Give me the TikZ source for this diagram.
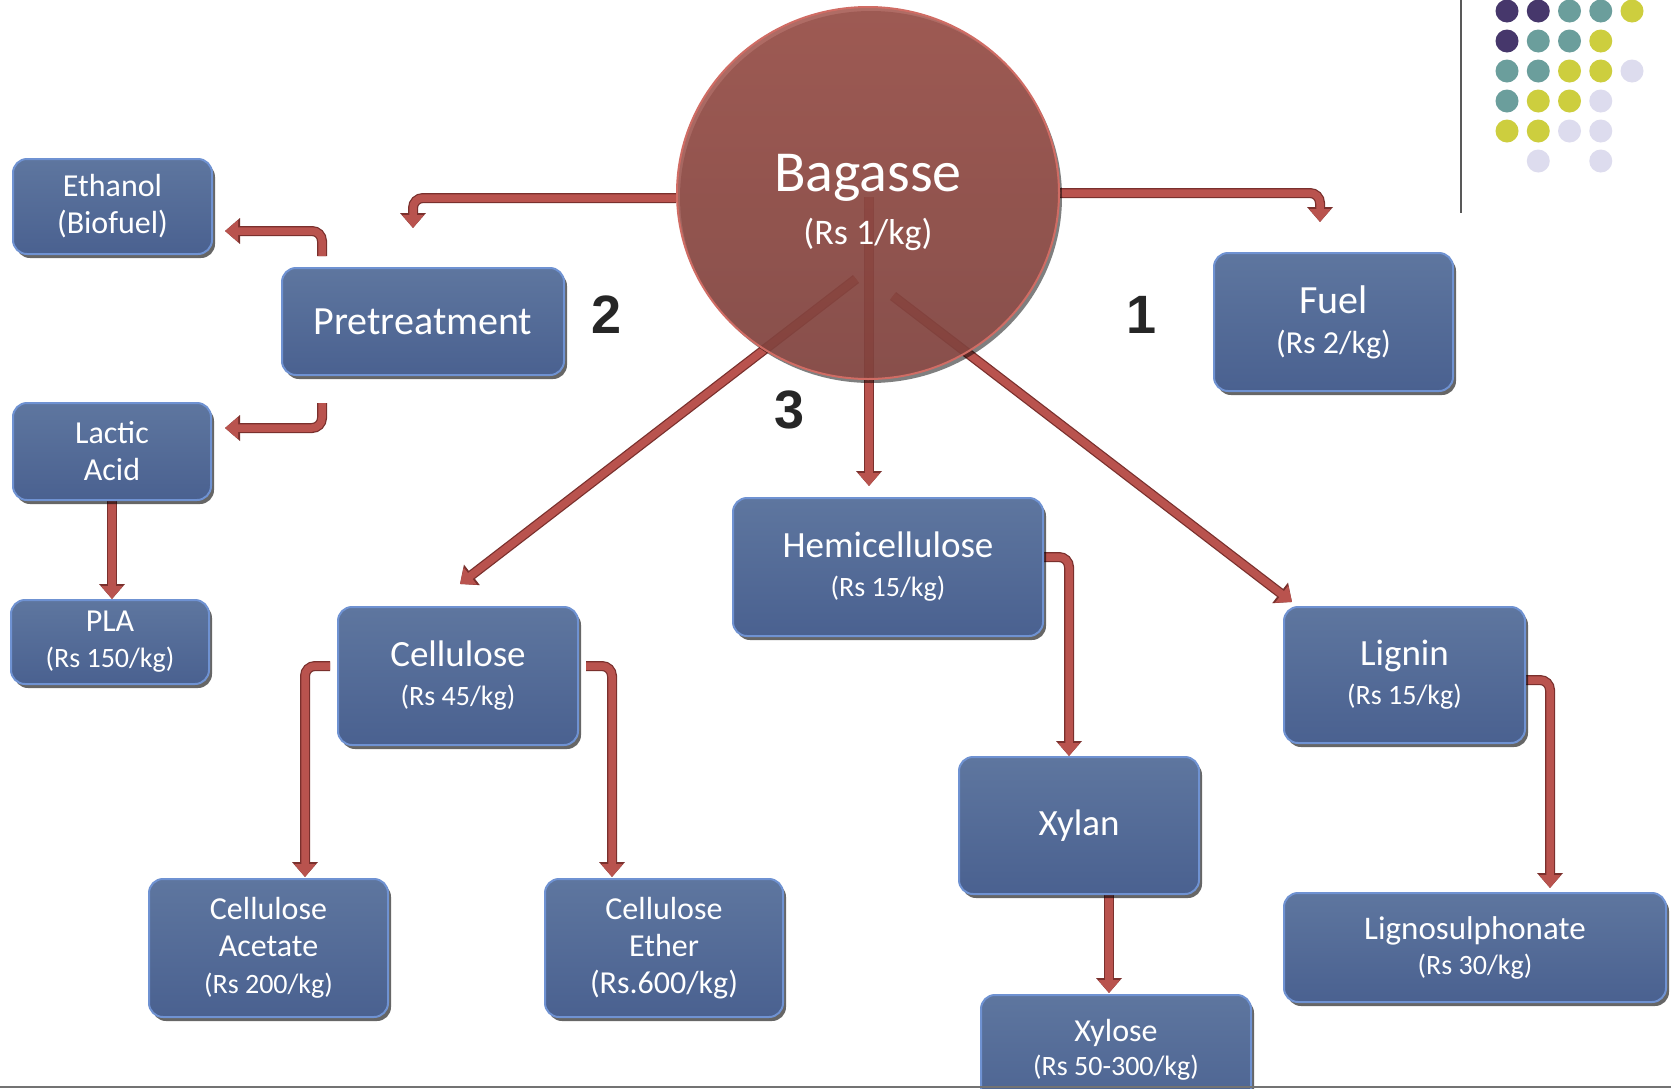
\documentclass[tikz,border=0pt]{standalone}
\usepackage{fontspec}
\setmainfont{Carlito}
\newfontfamily\numfont{Liberation Sans}
\usetikzlibrary{arrows.meta,shadows,backgrounds,calc,shapes.geometric}
\definecolor{boxtop}{HTML}{5E769F}
\definecolor{boxbot}{HTML}{4A6190}
\definecolor{boxline}{HTML}{6F92D2}
\definecolor{arrowred}{HTML}{B9534E}
\definecolor{arrowdark}{HTML}{7A302D}
\definecolor{circtop}{HTML}{A3544C}
\definecolor{circbot}{HTML}{8A4843}
\definecolor{circline}{HTML}{D06C64}
\definecolor{dpur}{HTML}{46376B}
\definecolor{dteal}{HTML}{6B9E9C}
\definecolor{dyel}{HTML}{CDCE3E}
\definecolor{dlav}{HTML}{DDDCEE}
\newcommand{\mysub}[2]{{\fontsize{#1}{#1}\selectfont #2}}
\tikzset{
  box/.style={rectangle, rounded corners=14pt, draw=boxline, line width=2pt,
    top color=boxtop, bottom color=boxbot, text=white, align=center, inner sep=0pt,
    drop shadow={shadow xshift=3pt, shadow yshift=-4pt, fill=black, opacity=0.6}},
  flow/.style={draw=arrowred, line width=7.5pt, rounded corners=10pt,
    -{Triangle[width=21pt,length=13pt]},
    preaction={draw=arrowdark, line width=10pt, -{Triangle[width=25pt,length=15pt]}}},
  num/.style={font=\numfont\bfseries\fontsize{54}{54}\selectfont, text=black!85},
}
\begin{document}
\begin{tikzpicture}[x=1pt,y=-1pt]
\useasboundingbox (0,0) rectangle (1671,1088);
\clip (0,0) rectangle (1671,1088);

% decorative dots and rule
\draw[black!65, line width=1.5pt] (1461,0) -- (1461,213);
\foreach \c/\r/\col in {0/0/dpur,1/0/dpur,2/0/dteal,3/0/dteal,4/0/dyel,
  0/1/dpur,1/1/dteal,2/1/dteal,3/1/dyel,
  0/2/dteal,1/2/dteal,2/2/dyel,3/2/dyel,4/2/dlav,
  0/3/dteal,1/3/dyel,2/3/dyel,3/3/dlav,
  0/4/dyel,1/4/dyel,2/4/dlav,3/4/dlav,
  1/5/dlav,3/5/dlav}
  \fill[\col] ({1507+31.25*\c},{11+30*\r}) circle (11.5);

% boxes
\node[box, minimum width=199pt, minimum height=95pt, font=\fontsize{32}{37}\selectfont] (eth) at (112.5,206.5) {Ethanol\\(Biofuel)};
\node[box, minimum width=282pt, minimum height=107pt, font=\fontsize{40}{40}\selectfont] (pre) at (423,321.5) {Pretreatment};
\node[box, minimum width=198pt, minimum height=97pt, font=\fontsize{32}{37}\selectfont] (lac) at (112,451.5) {Lactic\\Acid};
\node[box, minimum width=198pt, minimum height=84pt, font=\fontsize{32}{36}\selectfont] (pla) at (110,642) {PLA\\\mysub{28}{(Rs 150/kg)}};
\node[box, minimum width=240pt, minimum height=138pt, font=\fontsize{37}{39}\selectfont] (cel) at (458,676) {Cellulose\\\mysub{28}{(Rs 45/kg)}};
\node[box, minimum width=310pt, minimum height=138pt, font=\fontsize{37}{39}\selectfont] (hemi) at (888,567) {Hemicellulose\\\mysub{28}{(Rs 15/kg)}};
\node[box, minimum width=241pt, minimum height=136pt, font=\fontsize{37}{39}\selectfont] (lig) at (1404.5,675) {Lignin\\\mysub{28}{(Rs 15/kg)}};
\node[box, minimum width=382pt, minimum height=109pt, font=\fontsize{33}{35}\selectfont] (lso) at (1475,947.5) {Lignosulphonate\\\mysub{28}{(Rs 30/kg)}};
\node[box, minimum width=239pt, minimum height=138pt, font=\fontsize{40}{40}\selectfont] (fuel) at (1333.5,322) {Fuel\\\mysub{32}{(Rs 2/kg)}};
\node[box, minimum width=240pt, minimum height=137pt, font=\fontsize{37}{38}\selectfont] (xylan) at (1079,825.5) {Xylan};
\node[box, minimum width=270pt, minimum height=130pt] (xylose) at (1116,1060) {};
\node[text=white, align=center, anchor=north, font=\fontsize{32}{34}\selectfont] (xyltext) at ([yshift=-22pt]xylose.north) {Xylose\\\mysub{28}{(Rs 50-300/kg)}};
\node[box, minimum width=239pt, minimum height=138pt, font=\fontsize{32}{37}\selectfont] (ca) at (268.5,948) {Cellulose\\Acetate\\\mysub{28}{(Rs 200/kg)}};
\node[box, minimum width=238pt, minimum height=138pt, font=\fontsize{32}{37}\selectfont] (ce) at (664,948) {Cellulose\\Ether\\(Rs.600/kg)};

% centre circle
\node[ellipse, minimum width=382pt, minimum height=372pt, inner sep=0pt, draw=circline, line width=2pt, top color=circtop, bottom color=circbot,
  fill opacity=0.86, drop shadow={shadow xshift=3pt, shadow yshift=-4pt, fill=black, opacity=0.5}] (bag) at (868,193) {};
\node[text=white, align=center, font=\fontsize{58}{53}\selectfont] (bagtext) at (868,202) {Bagasse\\\mysub{36}{(Rs 1/kg)}};

% numbers
\node[num] (n2) at (607,315) {2};
\node[num] (n1) at (1142,315) {1};
\node[num] (n3) at (790,410) {3};

% connector end points
\coordinate (t1) at (413,228);
\coordinate (t2) at (1320,222);
\coordinate (s3) at (322,256);
\coordinate (t3) at (225,231);
\coordinate (s4) at (322,403);
\coordinate (t4) at (225,428);
\coordinate (s6) at (856,279);
\coordinate (t6) at (460,584);
\coordinate (s7) at (869,197);
\coordinate (t7) at (869,486);
\coordinate (s8) at (893,296);
\coordinate (t8) at (1292,602);
\coordinate (t9) at (1069,756);
\coordinate (s10) at (1109,894);
\coordinate (t10) at (1109,993);
\coordinate (s11) at (330,666);
\coordinate (t11) at (305,877);
\coordinate (s12) at (586,666);
\coordinate (t12) at (612,877);
\coordinate (s13) at (1525,680);
\coordinate (t13) at (1550,888);

\begin{scope}[on background layer]
\fill[white] (0,0) rectangle (1671,1088);
\draw[flow] ([yshift=-5pt]bag.west) -| (t1);
\draw[flow] (bag.east) -| (t2);
\draw[flow] (s3) |- (t3);
\draw[flow] (s4) |- (t4);
\draw[flow] (lac.south) -- (lac.south |- pla.north);
\draw[flow] (s6) -- (t6);
\draw[flow] (s7) -- (t7);
\draw[flow] (s8) -- (t8);
\draw[flow] ([yshift=10pt]hemi.east) -| (t9);
\draw[flow] (s10) -- (t10);
\draw[flow] (s11) -| (t11);
\draw[flow] (s12) -| (t12);
\draw[flow] (s13) -| (t13);
\end{scope}

\draw[black!55, line width=2pt] (0,1087) -- (1671,1087);
\end{tikzpicture}
\end{document}
